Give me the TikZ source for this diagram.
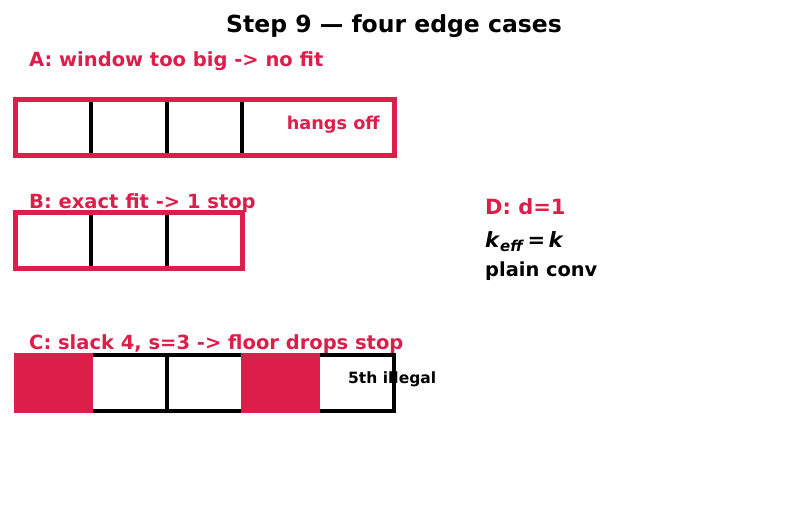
\documentclass[tikz,border=0pt]{standalone}
\usepackage{fontspec}
\setmainfont{DejaVu Sans}
\usepackage{tikz}
\definecolor{crimson}{HTML}{DC1E4A}

\begin{document}
\begin{tikzpicture}[x=1pt,y=-1pt,
    redlabel/.style={anchor=west,inner sep=0pt,text=crimson,font=\bfseries\fontsize{19.5}{21}\selectfont},
    cellbox/.style={draw=black,line width=4pt},
    redframe/.style={draw=crimson,line width=5pt},
    redcell/.style={draw=crimson,fill=crimson,line width=4pt}]
    \useasboundingbox (0,0) rectangle (787,510);

    % Title
    \node[inner sep=0pt,font=\bfseries\fontsize{23.5}{25}\selectfont] (title) at (394,26) {Step 9 — four edge cases};

    % Case A: window too big
    \node[redlabel] (labA) at (29,61.5) {A: window too big -> no fit};
    \foreach \i in {0,1,2}
        \draw[cellbox] ({15.5+75.5*\i},100) rectangle ({15.5+75.5*(\i+1)},156);
    \draw[redframe] (15.5,100) rectangle (394,156);
    \node[anchor=east,inner sep=0pt,text=crimson,font=\bfseries\fontsize{17.7}{19}\selectfont] (hang) at (380,125) {hangs off};

    % Case B: exact fit
    \node[redlabel] (labB) at (29,203.5) {B: exact fit -> 1 stop};
    \foreach \i in {0,1,2}
        \draw[cellbox] ({15.5+75.5*\i},213) rectangle ({15.5+75.5*(\i+1)},269);
    \draw[redframe] (15.5,213) rectangle (242,269);

    % Case C: slack with stride
    \node[redlabel] (labC) at (29,344.5) {C: slack 4, s=3 -> floor drops stop};
    \foreach \i in {0,...,4}
        \draw[cellbox] ({15.5+75.7*\i},355) rectangle ({15.5+75.7*(\i+1)},411);
    \draw[redcell] (15.5,355) rectangle (91.2,411);
    \draw[redcell] (242.6,355) rectangle (318.3,411);
    \node[anchor=west,inner sep=0pt,font=\bfseries\fontsize{15.5}{17}\selectfont] (illegal) at (348,379) {5th illegal};

    % Case D: dilation one
    \node[anchor=west,inner sep=0pt,text=crimson,font=\bfseries\fontsize{21}{23}\selectfont] (labD) at (485,207) {D: d=1};
    \node[anchor=west,inner sep=0pt,font=\bfseries\fontsize{21}{23}\selectfont] (keff) at (485,241.5)
        {\textit{k}\raisebox{-0.35ex}{\fontsize{15}{17}\selectfont\textit{eff}}\,=\,\textit{k}};
    \node[anchor=west,inner sep=0pt,font=\bfseries\fontsize{19.4}{21}\selectfont] (plain) at (485,271.5) {plain conv};
\end{tikzpicture}
\end{document}
